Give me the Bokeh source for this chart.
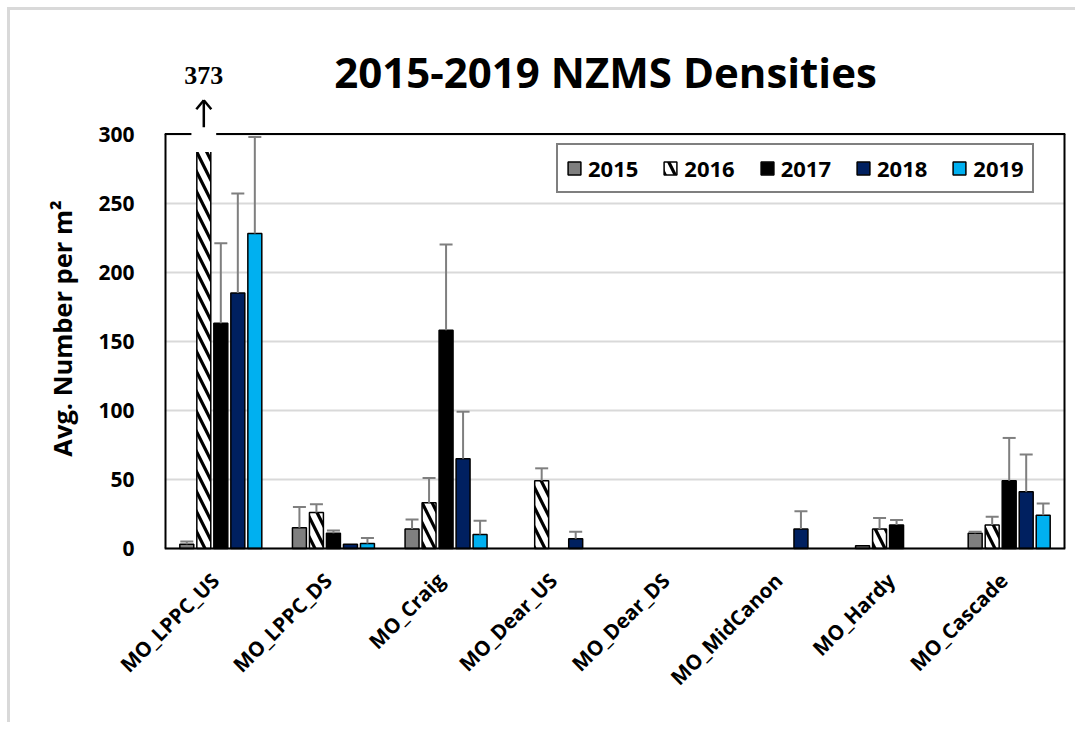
import math
from bokeh.plotting import figure
from bokeh.models import (ColumnDataSource, Range1d, FixedTicker, Whisker, TeeHead,
                          Legend, LegendItem)
from bokeh.core.properties import value
from bokeh.embed import file_html
from bokeh.resources import INLINE

# ---------------- data ----------------
sites = ["MO_LPPC_US", "MO_LPPC_DS", "MO_Craig", "MO_Dear_US", "MO_Dear_DS",
         "MO_MidCanon", "MO_Hardy", "MO_Cascade"]
years = ["2015", "2016", "2017", "2018", "2019"]

v2015 = [3, 15, 14, 0, 0, 0, 2, 11]
e2015 = [2, 15, 7, 0, 0, 0, 0, 1]
v2016 = [373, 26, 33, 49, 0, 0, 14, 17]
e2016 = [0, 6, 18, 9, 0, 0, 8, 6]
v2017 = [163, 11, 158, 0, 0, 0, 17, 49]
e2017 = [58, 2, 62, 0, 0, 0, 3.5, 31]
v2018 = [185, 3, 65, 7, 0, 14, 0, 41]
e2018 = [72, 0, 34, 5, 0, 13, 0, 27]
v2019 = [228, 3.5, 10, 0, 0, 0, 0, 24]
e2019 = [70, 4, 10, 0, 0, 0, 0, 8.5]

values = [v2015, v2016, v2017, v2018, v2019]
errors = [e2015, e2016, e2017, e2018, e2019]
colors = ["#7f7f7f", "#ffffff", "#000000", "#002060", "#00b0f0"]

y_ticks = [0, 50, 100, 150, 200, 250, 300]
title_text = "2015-2019  NZMS Densities"
y_label = "Avg. Number per m\u00b2"

# ---------------- figure ----------------
FONT = "Open Sans"
step = 0.151
bar_w = 0.124
y_axis_max = y_ticks[-1]
y_top = 362          # head-room above the axis for title / off-scale marker
y_bottom = -43.5     # room below zero so the axis title sits centred on 0..300
n = len(sites)

p = figure(width=1068, height=715, output_backend="svg", toolbar_location=None,
           x_range=Range1d(0, n), y_range=Range1d(y_bottom, y_top),
           min_border_left=154, min_border_right=13, min_border_top=38,
           min_border_bottom=117)
p.styles = {"border-left": "3px solid #d9d9d9", "border-top": "3px solid #d9d9d9",
            "margin-left": "7px", "margin-top": "7px"}

p.outline_line_color = None
p.background_fill_color = "white"
p.border_fill_color = "white"

p.xgrid.visible = False
p.ygrid.grid_line_color = "#d9d9d9"
p.ygrid.grid_line_width = 2
p.yaxis.ticker = FixedTicker(ticks=y_ticks)
p.ygrid.ticker = FixedTicker(ticks=y_ticks)
p.yaxis.bounds = (0, y_axis_max)

centers = [i + 0.5 for i in range(n)]
label_pos = [c - 0.05 for c in centers]
p.xaxis.ticker = FixedTicker(ticks=label_pos)
p.xaxis.major_label_overrides = {c: s for c, s in zip(label_pos, sites)}
p.xaxis.major_label_orientation = math.pi / 4

for ax in (p.xaxis, p.yaxis):
    ax.axis_line_color = None
    ax.major_tick_line_color = None
    ax.minor_tick_line_color = None
    ax.major_label_text_font = FONT
    ax.major_label_text_font_style = "bold"
    ax.major_label_text_color = "black"

p.yaxis.major_label_text_font_size = "21px"
p.yaxis.major_label_standoff = 24
p.xaxis.major_label_text_font_size = "20.5px"
p.xaxis.major_label_standoff = -38

p.yaxis.axis_label = y_label
p.yaxis.axis_label_text_font = FONT
p.yaxis.axis_label_text_font_size = "25.5px"
p.yaxis.axis_label_text_font_style = "bold"
p.yaxis.axis_label_text_color = "black"
p.yaxis.axis_label_standoff = 16

renderers = []
for k, (yr, vals, errs, col) in enumerate(zip(years, values, errors, colors)):
    off = (k - 2) * step
    xs = [c + off for c, v in zip(centers, vals) if v > 0]
    tops = [min(v, y_axis_max) for v in vals if v > 0]
    src = ColumnDataSource(dict(x=xs, top=tops))
    kw = dict(x="x", top="top", bottom=0, width=bar_w, source=src, fill_color=col,
              line_color="black", line_width=1.5)
    if yr == "2016":
        kw.update(hatch_pattern="left_diagonal_line", hatch_color="black",
                  hatch_weight=3.2, hatch_scale=20)
    r = p.vbar(**kw)
    renderers.append(r)

    wx = [c + off for c, v, e in zip(centers, vals, errs) if e > 0]
    wl = [v for v, e in zip(vals, errs) if e > 0]
    wu = [v + e for v, e in zip(vals, errs) if e > 0]
    wsrc = ColumnDataSource(dict(x=wx, lower=wl, upper=wu))
    w = Whisker(base="x", lower="lower", upper="upper", source=wsrc,
                line_color="#7f7f7f", line_width=2, lower_head=None,
                upper_head=TeeHead(size=13, line_color="#7f7f7f", line_width=2),
                level="glyph")
    p.add_layout(w)

# plot-area frame (0..300 box)
x0, x1 = p.x_range.start, p.x_range.end
frame = ColumnDataSource(dict(
    x0=[x0, x0, x1, x0], y0=[0, 0, 0, y_axis_max],
    x1=[x1, x0, x1, x1], y1=[0, y_axis_max, y_axis_max, y_axis_max],
    w=[2, 4, 4, 2]))
p.segment(x0="x0", y0="y0", x1="x1", y1="y1", line_width="w", line_color="black",
          source=frame)

# off-scale marker for the clipped 2016 bar
xb = centers[0] + (1 - 2) * step
p.quad(left=[xb - 0.11], right=[xb + 0.11], bottom=[y_axis_max - 13],
       top=[y_axis_max + 5], fill_color="white", line_alpha=0)
hx = 7.5 / 112.6
hy = 6.0
p.segment(x0=[xb, xb - hx, xb + hx], y0=[y_axis_max + 5, y_axis_max + 24 - hy, y_axis_max + 24 - hy],
          x1=[xb, xb, xb], y1=[y_axis_max + 24.5, y_axis_max + 24.5, y_axis_max + 24.5],
          line_color="black", line_width=2.5)
p.text(x=[xb], y=[y_axis_max + 42.7], text=[str(v2016[0])], text_align="center",
       text_baseline="alphabetic", text_font=value("Liberation Serif"),
       text_font_style="bold", text_font_size="26px", text_color="black")

# chart title
p.text(x=[(x0 + x1) / 2], y=[y_axis_max + 45], x_offset=-4, text=[title_text],
       text_align="center", text_baseline="alphabetic", text_font=value(FONT),
       text_font_style="bold", text_font_size="42px", text_color="black")

legend = Legend(items=[LegendItem(label=y, renderers=[r]) for y, r in zip(years, renderers)],
                orientation="horizontal", location=(392, 355 + 43.5 * 1.38),
                border_line_color="black", border_line_width=2,
                label_text_font=FONT, label_text_font_style="bold",
                label_text_font_size="22px", label_text_color="black",
                glyph_width=16, glyph_height=16, label_standoff=6, spacing=24,
                padding=8, margin=0, background_fill_alpha=1)
p.add_layout(legend, "center")

open("out.html", "w").write(file_html(p, INLINE))
